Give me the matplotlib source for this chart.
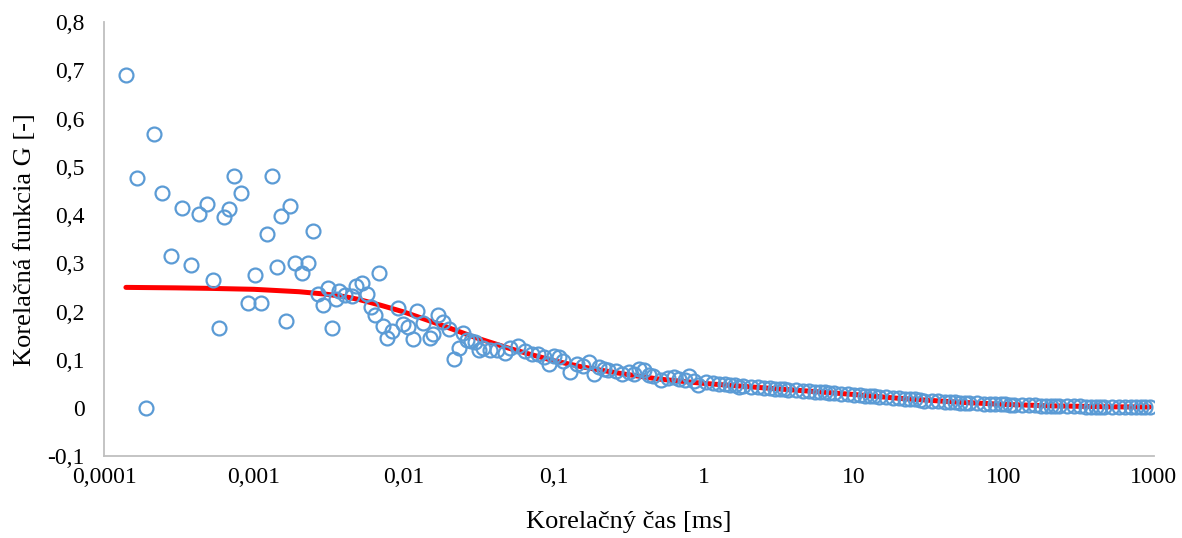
import matplotlib
matplotlib.use("Agg")
import matplotlib.pyplot as plt

# measured correlation (lag time in ms, G)
tau = [
    1.40e-4, 1.66e-4, 1.91e-4, 2.15e-4, 2.44e-4, 2.80e-4, 3.31e-4, 3.80e-4,
    4.30e-4, 4.86e-4, 5.33e-4, 5.84e-4, 6.31e-4, 6.81e-4, 7.36e-4, 8.19e-4,
    9.12e-4, 1.015e-3, 1.113e-3, 1.221e-3, 1.318e-3, 1.423e-3, 1.514e-3, 1.634e-3,
    1.738e-3, 1.876e-3, 2.089e-3, 2.291e-3, 2.474e-3, 2.672e-3, 2.884e-3, 3.114e-3,
    3.311e-3, 3.52e-3, 3.69e-3, 4.04e-3, 4.50e-3, 4.79e-3, 5.25e-3, 5.67e-3,
    6.03e-3, 6.41e-3, 6.81e-3, 7.24e-3, 7.70e-3, 8.32e-3, 9.12e-3, 9.85e-3,
    1.063e-2, 1.148e-2, 1.221e-2, 1.339e-2, 1.491e-2, 1.561e-2, 1.686e-2, 1.820e-2,
    1.995e-2, 2.154e-2, 2.326e-2, 2.474e-2, 2.630e-2, 2.798e-2, 2.975e-2, 3.162e-2,
    3.363e-2, 3.744e-2, 4.169e-2, 4.715e-2, 5.090e-2,
    0.0573, 0.0645, 0.0716, 0.0788, 0.0860, 0.0931, 0.1003, 0.1074,
    0.1146, 0.1289, 0.1433, 0.1576, 0.1719, 0.1862, 0.2006, 0.2149,
    0.2292, 0.2579, 0.2865, 0.3152, 0.3438, 0.3725, 0.4011, 0.4298,
    0.4584, 0.5157, 0.5730, 0.6303, 0.6876, 0.7449, 0.8022, 0.8595,
    0.917, 1.031, 1.146, 1.261, 1.375, 1.490, 1.604, 1.719,
    1.834, 2.063, 2.292, 2.521, 2.750, 2.980, 3.209, 3.438,
    3.667, 4.125, 4.584, 5.042, 5.501, 5.959, 6.417, 6.876,
    7.334, 8.251, 9.168, 10.08, 11.00, 11.92, 12.83, 13.75,
    14.67, 16.50, 18.34, 20.17, 22.00, 23.84, 25.67, 27.50,
    29.34, 33.01, 36.67, 40.34, 44.01, 47.67, 51.34, 55.01,
    58.68, 66.01, 73.35, 80.68, 88.02, 95.35, 102.7, 110.0,
    117.4, 132.0, 146.7, 161.4, 176.0, 190.7, 205.4, 220.1,
    234.7, 264.0, 293.4, 322.7, 352.1, 381.4, 410.7, 440.1,
    469.5, 528.1, 586.8, 645.5, 704.2, 762.9, 821.5, 880.2,
    939.0,
]
g_meas = [
    0.690, 0.477, 0.000, 0.567, 0.445, 0.315, 0.415, 0.297,
    0.403, 0.422, 0.265, 0.165, 0.395, 0.412, 0.480, 0.445,
    0.218, 0.275, 0.218, 0.360, 0.480, 0.293, 0.397, 0.180,
    0.418, 0.300, 0.280, 0.300, 0.367, 0.237, 0.213, 0.249,
    0.165, 0.226, 0.242, 0.234, 0.232, 0.253, 0.260, 0.236,
    0.209, 0.193, 0.280, 0.170, 0.146, 0.160, 0.208, 0.174,
    0.167, 0.143, 0.202, 0.177, 0.146, 0.153, 0.192, 0.179,
    0.163, 0.101, 0.124, 0.156, 0.140, 0.139, 0.136, 0.120,
    0.125, 0.120, 0.121, 0.115, 0.125,
    0.129, 0.118, 0.112, 0.112, 0.105, 0.091, 0.108, 0.106,
    0.098, 0.074, 0.091, 0.088, 0.095, 0.071, 0.085, 0.080,
    0.078, 0.076, 0.071, 0.074, 0.070, 0.081, 0.078, 0.068,
    0.066, 0.057, 0.062, 0.064, 0.060, 0.058, 0.067, 0.055,
    0.047, 0.053, 0.052, 0.050, 0.049, 0.047, 0.048, 0.044,
    0.045, 0.044, 0.043, 0.042, 0.041, 0.040, 0.039, 0.039,
    0.038, 0.037, 0.036, 0.035, 0.034, 0.033, 0.033, 0.032,
    0.031, 0.030, 0.029, 0.027, 0.026, 0.025, 0.025, 0.024,
    0.023, 0.022, 0.021, 0.020, 0.019, 0.018, 0.018, 0.017,
    0.015, 0.014, 0.014, 0.013, 0.012, 0.012, 0.011, 0.011,
    0.010, 0.010, 0.009, 0.009, 0.008, 0.008, 0.008, 0.007,
    0.007, 0.006, 0.006, 0.006, 0.005, 0.005, 0.005, 0.004,
    0.004, 0.004, 0.004, 0.004, 0.003, 0.003, 0.003, 0.003,
    0.003, 0.002, 0.002, 0.002, 0.002, 0.002, 0.002, 0.002,
    0.002,
]

# fitted model (red line)
tau_fit = [1.4e-4, 3e-4, 5e-4, 1e-3, 2e-3, 3e-3, 4e-3, 5e-3, 7e-3, 0.01,
           0.015, 0.02, 0.03, 0.05, 0.07, 0.1, 0.15, 0.2, 0.3, 0.5,
           1, 2, 5, 10, 20, 50, 100, 200, 500, 939]
g_fit = [0.250, 0.249, 0.248, 0.246, 0.241, 0.236, 0.231, 0.225, 0.213, 0.199,
         0.180, 0.166, 0.146, 0.124, 0.111, 0.098, 0.086, 0.079, 0.070, 0.060,
         0.051, 0.044, 0.035, 0.028, 0.020, 0.012, 0.0075, 0.0045, 0.0025, 0.002]

xticks = [1e-4, 1e-3, 1e-2, 1e-1, 1, 10, 100, 1000]
xlabels = ["0,0001", "0,001", "0,01", "0,1", "1", "10", "100", "1000"]
yticks = [-0.1, 0, 0.1, 0.2, 0.3, 0.4, 0.5, 0.6, 0.7, 0.8]
ylabels = ["-0,1", "0", "0,1", "0,2", "0,3", "0,4", "0,5", "0,6", "0,7", "0,8"]

plt.rcParams["font.family"] = ["Liberation Serif", "DejaVu Serif"]

fig = plt.figure(figsize=(11.82, 5.38), dpi=100)
ax = fig.add_axes([0.088, 0.152, 0.888, 0.807])

ax.plot(tau_fit, g_fit, color="#FF0000", lw=3.6, solid_capstyle="round", zorder=2)
ax.plot(tau, g_meas, ls="none", marker="o", ms=10, mfc="none",
        mec="#5B9BD5", mew=1.6, zorder=3)

ax.set_xscale("log")
ax.set_xlim(1e-4, 1000)
ax.set_ylim(-0.1, 0.8)
ax.set_xticks(xticks)
ax.set_xticklabels(xlabels)
ax.set_yticks(yticks)
ax.set_yticklabels(ylabels)
ax.minorticks_off()
ax.tick_params(axis="both", length=0, labelsize=17, colors="#000000")
ax.tick_params(axis="x", pad=8)
ax.tick_params(axis="y", pad=14)

for s in ["top", "right"]:
    ax.spines[s].set_visible(False)
for s in ["left", "bottom"]:
    ax.spines[s].set_color("#BFBFBF")
    ax.spines[s].set_linewidth(1.3)

ax.set_xlabel("Korelačný čas [ms]", fontsize=19, labelpad=16)
ax.set_ylabel("Korelačná funkcia G [-]", fontsize=19, labelpad=8)

fig.savefig("out.png", dpi=100)
